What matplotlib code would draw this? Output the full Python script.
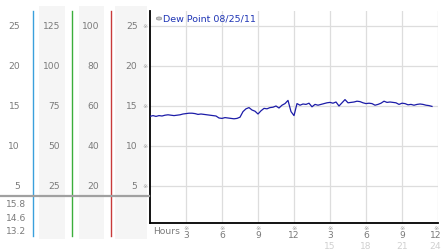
import numpy as np
import matplotlib
matplotlib.use("Agg")
import matplotlib.pyplot as plt
from matplotlib.patches import Rectangle, Circle
from matplotlib.lines import Line2D

plt.rcParams['font.family'] = ['DejaVu Sans', 'Noto Sans CJK SC']

# ---- data ----
hours = np.arange(0, 23.75, 0.25)
dew_point = [
    13.7, 13.8, 13.7, 13.8, 13.75, 13.85, 13.9, 13.85, 13.8, 13.85, 13.9, 14.0,
    14.05, 14.1, 14.1, 14.05, 13.95, 14.0, 13.95, 13.9, 13.85, 13.8, 13.75, 13.5,
    13.45, 13.55, 13.5, 13.45, 13.4, 13.45, 13.6, 14.3, 14.65, 14.8, 14.5, 14.35,
    14.0, 14.4, 14.7, 14.65, 14.8, 14.85, 15.0, 14.75, 15.1, 15.3, 15.7, 14.3,
    13.8, 15.3, 15.1, 15.25, 15.2, 15.35, 14.9, 15.2, 15.1, 15.2, 15.3, 15.4,
    15.45, 15.35, 15.5, 15.0, 15.4, 15.8, 15.4, 15.45, 15.5, 15.6, 15.55, 15.4,
    15.3, 15.35, 15.3, 15.1, 15.2, 15.35, 15.6, 15.45, 15.5, 15.45, 15.4, 15.2,
    15.35, 15.3, 15.15, 15.2, 15.1, 15.2, 15.25, 15.2, 15.1, 15.05, 14.95,
]
series_label = "Dew Point 08/25/11"
y_ticks = [5, 10, 15, 20, 25]
col1_labels = ["5", "10", "15", "20", "25"]
col2_labels = ["25", "50", "75", "100", "125"]
col3_labels = ["20", "40", "60", "80", "100"]
col4_labels = ["5", "10", "15", "20", "25"]
stats_labels = ["15.8", "14.6", "13.2"]
x_ticks = [3, 6, 9, 12, 15, 18, 21, 24]
x_labels = ["3", "6", "9", "12", "3", "6", "9", "12"]
x_labels2 = ["15", "18", "21", "24"]

W, H = 442, 253
fig = plt.figure(figsize=(W / 100, H / 100), dpi=100)
fig.patch.set_facecolor('white')

def fx(x):
    return x / W

def fy(y):
    return 1 - y / H

ax_top, ax_bot = 12, 224
ylim = (0.375, 26.875)
x0px, pxh = 150, 12

# ---- left panel ----
lax = fig.add_axes([0, fy(ax_bot), fx(149), (ax_bot - ax_top) / H])
lax.set_xlim(0, 149)
lax.set_ylim(*ylim)
lax.axis('off')
lax.set_zorder(3)

for xa, xb in [(39, 65), (79, 104), (115, 147)]:
    fig.patches.append(Rectangle((fx(xa), fy(240)), fx(xb - xa), (240 - 7) / H,
                                 transform=fig.transFigure, facecolor='#f5f5f5',
                                 edgecolor='none', zorder=-2))

for x, c in [(33, '#3aa0dc'), (72, '#3bae3b'), (111, '#c83a3a')]:
    fig.lines.append(Line2D([fx(x), fx(x)], [fy(12), fy(237)], transform=fig.transFigure,
                            color=c, lw=1.0, zorder=1))

fig.lines.append(Line2D([0, fx(149)], [fy(197), fy(197)], transform=fig.transFigure,
                        color='#a0a0a0', lw=1.6, zorder=2))

tc = '#7a7a7a'
mc = '#a0a0a0'
fs = 6.6
mfs = 4.6
for v, a, b, c, d in zip(y_ticks, col1_labels, col2_labels, col3_labels, col4_labels):
    lax.text(20, v, a, ha='right', va='center', fontsize=fs, color=tc)
    lax.text(60, v, b, ha='right', va='center', fontsize=fs, color=tc)
    lax.text(99.5, v, c, ha='right', va='center', fontsize=fs, color=tc)
    lax.text(137.5, v, d, ha='right', va='center', fontsize=fs, color=tc)
    lax.text(145.5, v, '※', ha='center', va='center', fontsize=mfs, color=mc)

for lbl, y in zip(stats_labels, [205, 218.5, 232]):
    fig.text(fx(6), fy(y), lbl, ha='left', va='center', fontsize=fs, color=tc)

# ---- main axes ----
ax = fig.add_axes([fx(x0px), fy(ax_bot), fx(24 * pxh), (ax_bot - ax_top) / H])
ax.set_xlim(0, 24)
ax.set_ylim(*ylim)
ax.set_facecolor('none')
for s in ['top', 'right']:
    ax.spines[s].set_visible(False)
ax.spines['left'].set_color('black')
ax.spines['left'].set_linewidth(1.3)
ax.spines['bottom'].set_color('black')
ax.spines['bottom'].set_linewidth(1.3)
ax.set_xticks([])
ax.set_yticks([])
for v in y_ticks:
    ax.axhline(v, color='#dddddd', lw=0.9, zorder=1)
for xt in x_ticks:
    ax.axvline(xt, color='#dddddd', lw=0.9, zorder=1)
ax.plot(hours, dew_point, color='#1c1ca8', lw=0.9, zorder=3)

# legend
fig.patches.append(Circle((fx(159), fy(19.5)), 2.7 / W, transform=fig.transFigure,
                          facecolor='#c4c4c4', edgecolor='#909090', lw=0.5, zorder=5))
fig.text(fx(163), fy(19.5), series_label, ha='left', va='center', fontsize=6.8,
         color='#1f35b5')

# x labels
fig.text(fx(153), fy(232), 'Hours', ha='left', va='center', fontsize=fs, color=tc)
for xt, lbl in zip(x_ticks, x_labels):
    px = min(x0px + xt * pxh, 436)
    fig.text(fx(px), fy(228.5), '※', ha='center', va='center', fontsize=mfs, color=mc)
    fig.text(fx(px), fy(236), lbl, ha='center', va='center', fontsize=fs, color=tc)
for xt, lbl in zip(x_ticks[4:], x_labels2):
    px = min(x0px + xt * pxh, 435)
    fig.text(fx(px), fy(247), lbl, ha='center', va='center', fontsize=fs, color='#d0d0d0')

fig.savefig('out.png', dpi=100, facecolor='white')
